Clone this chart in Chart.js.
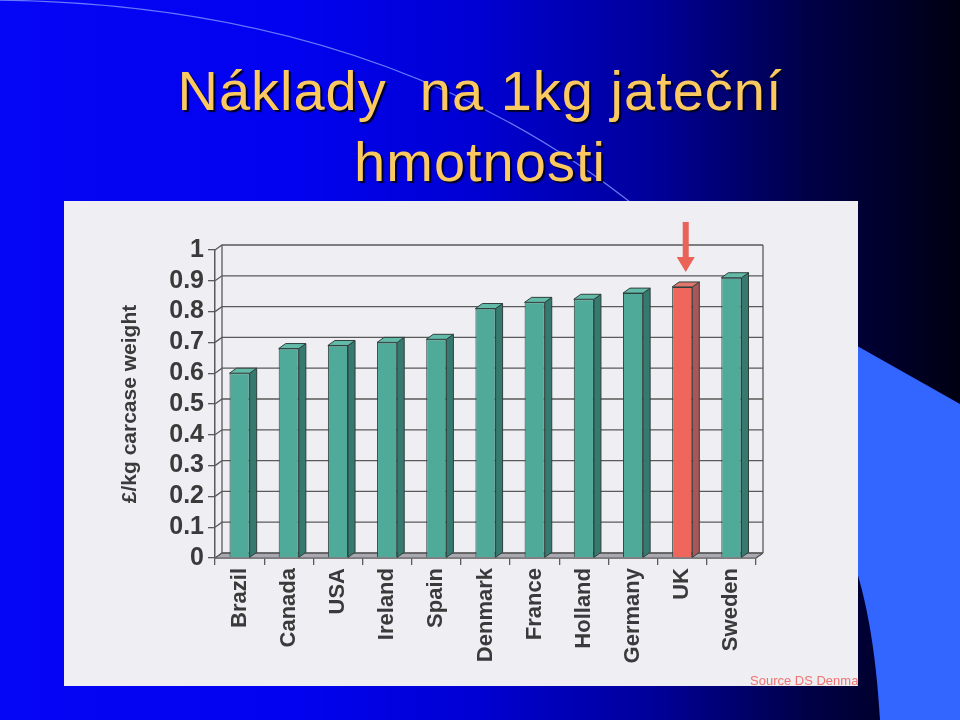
<!DOCTYPE html>
<html>
<head>
<meta charset="utf-8">
<script src="https://cdn.jsdelivr.net/npm/chart.js@4"></script>
<style>
  html, body { margin: 0; padding: 0; }
  body {
    width: 960px; height: 720px; overflow: hidden; position: relative;
    background: linear-gradient(to right, #0606f6 0%, #0202f0 30%, #0000d2 50%, #00009a 68%, #000048 84%, #000012 100%);
    font-family: "Liberation Sans", Arial, sans-serif;
  }
  #deco { position: absolute; left: 0; top: 0; }
  .title {
    position: absolute; left: 0; width: 960px; text-align: center;
    font-size: 56px; line-height: 56px; letter-spacing: 1px; white-space: pre;
    color: #fbc95f; text-shadow: 2px 2px 1px #000028;
  }
  #panel {
    position: absolute; left: 64px; top: 201px; width: 794px; height: 485px;
    background: #efeef3; overflow: hidden;
  }
  #chart { position: absolute; left: 0; top: 0; }
  #source {
    position: absolute; left: 686px; top: 472px; font-size: 13px;
    color: #ef7470; white-space: nowrap;
  }
</style>
</head>
<body>
<svg id="deco" width="960" height="720">
  <path d="M -20 0 Q 380 0 640 210" fill="none" stroke="#7d96ff" stroke-width="1.2" opacity="0.8"/>
  <path d="M 820 325 L 960 404 L 960 720 L 880 720 C 876 650 866 590 846 540 L 820 540 Z" fill="#3366ff"/>
</svg>
<div class="title" style="top:63px">Náklady  na 1kg jateční</div>
<div class="title" style="top:134px">hmotnosti</div>
<div id="panel">
  <canvas id="chart" width="794" height="485"></canvas>
  <div id="source">Source DS Denma</div>
</div>
<script>
const countries = ['Brazil', 'Canada', 'USA', 'Ireland', 'Spain', 'Denmark', 'France', 'Holland', 'Germany', 'UK', 'Sweden'];
const costPerKg = [0.60, 0.68, 0.69, 0.70, 0.71, 0.81, 0.83, 0.84, 0.86, 0.88, 0.91];
const yTickLabels = ['0', '0.1', '0.2', '0.3', '0.4', '0.5', '0.6', '0.7', '0.8', '0.9', '1'];
const yAxisTitle = '£/kg carcase weight';
const highlighted = 'UK';

const TEAL = { front: '#4faa9a', side: '#367a6f', top: '#62bba9' };
const RED = { front: '#ef675c', side: '#a85656', top: '#e0766c' };
const LINE = '#5a5a5a';
const DX = 7, DY = 5;   // depth of the 3d look

function colorsFor(label) {
    return label === highlighted ? RED : TEAL;
}

// back wall, side wall and floor
const wall3d = {
    id: 'wall3d',
    beforeDatasetsDraw(chart) {
        const ctx = chart.ctx;
        const area = chart.chartArea;
        const y = chart.scales.y;
        const y0 = y.getPixelForValue(0);
        const y1 = y.getPixelForValue(1);
        ctx.save();
        // floor
        ctx.fillStyle = '#a9a8b0';
        ctx.strokeStyle = LINE;
        ctx.lineWidth = 1;
        ctx.beginPath();
        ctx.moveTo(area.left, y0);
        ctx.lineTo(area.right, y0);
        ctx.lineTo(area.right + DX, y0 - DY);
        ctx.lineTo(area.left + DX, y0 - DY);
        ctx.closePath();
        ctx.fill();
        ctx.stroke();
        // grid lines on the back wall
        ctx.lineWidth = 1.3;
        for (let i = 0; i < yTickLabels.length; i++) {
            const py = y.getPixelForValue(Number(yTickLabels[i]));
            ctx.beginPath();
            ctx.moveTo(area.left, py);
            ctx.lineTo(area.left + DX, py - DY);
            ctx.lineTo(area.right + DX, py - DY);
            ctx.stroke();
        }
        ctx.beginPath();
        ctx.moveTo(area.left + DX, y0 - DY);
        ctx.lineTo(area.left + DX, y1 - DY);
        ctx.moveTo(area.right + DX, y0 - DY);
        ctx.lineTo(area.right + DX, y1 - DY);
        ctx.moveTo(area.right, y0);
        ctx.lineTo(area.right + DX, y0 - DY);
        ctx.stroke();
        ctx.restore();
    }
};

// side and top faces of the bars
const bars3d = {
    id: 'bars3d',
    afterDatasetsDraw(chart) {
        const ctx = chart.ctx;
        const meta = chart.getDatasetMeta(0);
        ctx.save();
        ctx.strokeStyle = '#2f3f3c';
        ctx.lineWidth = 1;
        meta.data.forEach((bar, i) => {
            const p = bar.getProps(['x', 'y', 'base', 'width'], true);
            const c = colorsFor(countries[i]);
            const l = p.x - p.width / 2, r = p.x + p.width / 2;
            ctx.fillStyle = c.side;
            ctx.beginPath();
            ctx.moveTo(r, p.y);
            ctx.lineTo(r + DX, p.y - DY);
            ctx.lineTo(r + DX, p.base - DY);
            ctx.lineTo(r, p.base);
            ctx.closePath();
            ctx.fill();
            ctx.stroke();
            ctx.fillStyle = c.top;
            ctx.beginPath();
            ctx.moveTo(l, p.y);
            ctx.lineTo(l + DX, p.y - DY);
            ctx.lineTo(r + DX, p.y - DY);
            ctx.lineTo(r, p.y);
            ctx.closePath();
            ctx.fill();
            ctx.stroke();
        });
        ctx.restore();
    }
};

// red arrow pointing at the highlighted country
const arrowPlugin = {
    id: 'arrow',
    afterDatasetsDraw(chart) {
        const idx = countries.indexOf(highlighted);
        if (idx < 0) return;
        const bar = chart.getDatasetMeta(0).data[idx];
        const p = bar.getProps(['x', 'y'], true);
        const ctx = chart.ctx;
        const x = p.x + DX / 2;
        const tip = p.y - 15;
        ctx.save();
        ctx.fillStyle = '#ea6258';
        ctx.fillRect(x - 3, tip - 50, 6, 36);
        ctx.beginPath();
        ctx.moveTo(x - 9, tip - 15);
        ctx.lineTo(x + 9, tip - 15);
        ctx.lineTo(x, tip);
        ctx.closePath();
        ctx.fill();
        ctx.restore();
    }
};

const labelFont = { family: '"Liberation Sans", Arial, sans-serif', weight: 'bold' };

new Chart(document.getElementById('chart'), {
    type: 'bar',
    data: {
        labels: countries,
        datasets: [{
            data: costPerKg,
            backgroundColor: countries.map(c => colorsFor(c).front),
            borderColor: '#2f3f3c',
            borderWidth: 1,
            barPercentage: 0.41,
            categoryPercentage: 1
        }]
    },
    options: {
        responsive: false,
        animation: false,
        layout: { padding: { left: 0, right: 102, top: 49, bottom: 0 } },
        plugins: { legend: { display: false }, tooltip: { enabled: false } },
        scales: {
            x: {
                grid: { offset: true, drawOnChartArea: false, tickLength: 7, color: LINE, lineWidth: 1.3 },
                border: { color: LINE, width: 1.5 },
                ticks: {
                    minRotation: 90, maxRotation: 90, padding: 3, color: '#3a3a3a', autoSkip: false,
                    font: Object.assign({ size: 22 }, labelFont)
                },
                afterFit(scale) { scale.height = 128; }
            },
            y: {
                min: 0, max: 1,
                grid: { drawOnChartArea: false, tickLength: 7, color: LINE, lineWidth: 1.3 },
                border: { color: LINE, width: 1.5 },
                ticks: {
                    stepSize: 0.1, padding: 4, color: '#3a3a3a', autoSkip: false,
                    font: Object.assign({ size: 25 }, labelFont),
                    callback: v => yTickLabels[Math.round(v * 10)]
                },
                title: {
                    display: true, text: yAxisTitle, color: '#3a3a3a',
                    font: Object.assign({ size: 21 }, labelFont),
                    padding: { top: 54, bottom: 0 }
                },
                afterFit(scale) { scale.width = 151; }
            }
        }
    },
    plugins: [wall3d, bars3d, arrowPlugin]
});
</script>
</body>
</html>
